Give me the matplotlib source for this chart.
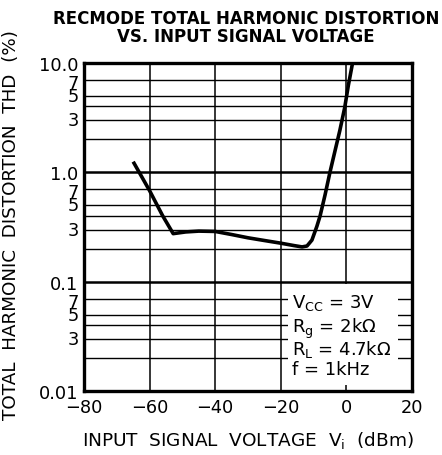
import math
import matplotlib
matplotlib.use("Agg")
import matplotlib.pyplot as plt
from matplotlib.ticker import FixedLocator, NullFormatter
import matplotlib.patches as mpatches
import matplotlib.transforms as mtransforms

plt.rcParams['font.family'] = ['DejaVu Sans']
plt.rcParams['mathtext.fontset'] = 'dejavusans'

# Data
vin_dbm = [-65, -60, -56, -52.8, -49, -45, -40, -35, -30, -25, -20, -16, -13.5, -12, -10.5, -9, -8, -6.5, -5, -3.5, -2, -0.5, 0.6, 1.9]
thd_pct = [1.25, 0.68, 0.40, 0.275, 0.285, 0.29, 0.288, 0.27, 0.252, 0.238, 0.225, 0.214, 0.208, 0.212, 0.24, 0.32, 0.40, 0.62, 1.0, 1.55, 2.4, 3.9, 6.2, 10.0]

x_ticks = [-80, -60, -40, -20, 0, 20]
x_tick_labels = ["\u221280", "\u221260", "\u221240", "\u221220", "0", "20"]
y_major = [0.01, 0.1, 1.0, 10.0]
y_major_labels = ["0.01", "0.1", "1.0", "10.0"]
y_minor_labeled = [0.07, 0.05, 0.03, 0.7, 0.5, 0.3, 7, 5, 3]
y_grid = [0.02, 0.03, 0.04, 0.05, 0.07, 0.2, 0.3, 0.4, 0.5, 0.7, 2, 3, 4, 5, 7]
conditions = ["V$_{\\rm CC}$ = 3V", "R$_{\\rm g}$ = 2k\u03a9", "R$_{\\rm L}$ = 4.7k\u03a9", "f = 1kHz"]
cond_y = [0.0586, 0.0344, 0.0218, 0.0143]

fig = plt.figure(figsize=(4.42, 4.56), dpi=100)
ax = fig.add_axes([0.190, 0.140, 0.742, 0.720])
ax.set_yscale('log')
ax.set_xlim(-80, 20)
ax.set_ylim(0.01, 10)

# grid
for g in y_grid:
    ax.axhline(g, color='black', lw=1.0, zorder=1)
for g in [0.1, 1.0]:
    ax.axhline(g, color='black', lw=1.8, zorder=1)
for g in x_ticks[1:-1]:
    ax.axvline(g, color='black', lw=1.1, zorder=1)

# white box for conditions
box = mpatches.Rectangle((-17.8, 0.0113), 33.5, 0.096 - 0.0113, facecolor='white', edgecolor='none', zorder=2)
ax.add_patch(box)

ax.plot(vin_dbm, thd_pct, color='black', lw=2.6, zorder=3, solid_capstyle='butt')

for sp in ax.spines.values():
    sp.set_linewidth(2.4)

FS = 12.8
ax.set_xticks(x_ticks)
ax.set_xticklabels(x_tick_labels)
ax.yaxis.set_major_locator(FixedLocator(y_major))
ax.set_yticklabels(y_major_labels)
ax.yaxis.set_minor_locator(FixedLocator(y_minor_labeled))
ax.yaxis.set_minor_formatter(NullFormatter())
ax.tick_params(axis='both', which='both', length=0, labelsize=FS)
ax.tick_params(axis='x', pad=5)
ax.tick_params(axis='y', pad=4)

for v in y_minor_labeled:
    d = int(round(v / 10 ** math.floor(math.log10(v) + 1e-9)))
    dy = -3 if d == 7 else 0
    tr = mtransforms.offset_copy(ax.get_yaxis_transform(), fig=fig, x=-5.5, y=dy, units='dots')
    ax.text(0, v, str(d), ha='right', va='center', fontsize=FS, transform=tr, clip_on=False)

for t, yv in zip(conditions, cond_y):
    ax.text(-16.6, yv, t, fontsize=13, ha='left', va='baseline', zorder=4)

fig.text(0.557, 0.959, "RECMODE TOTAL HARMONIC DISTORTION", ha='center', va='center',
         fontsize=12, fontweight='bold')
fig.text(0.557, 0.918, "VS. INPUT SIGNAL VOLTAGE", ha='center', va='center',
         fontsize=12, fontweight='bold')
fig.text(0.024, 0.507, "TOTAL  HARMONIC  DISTORTION  THD  (%)", rotation=90, ha='center', va='center', fontsize=13.2)
fig.text(0.561, 0.035, "INPUT  SIGNAL  VOLTAGE  V$_{\\rm i}$  (dBm)", ha='center', va='center', fontsize=13.3)

fig.savefig("out.png", dpi=100)
